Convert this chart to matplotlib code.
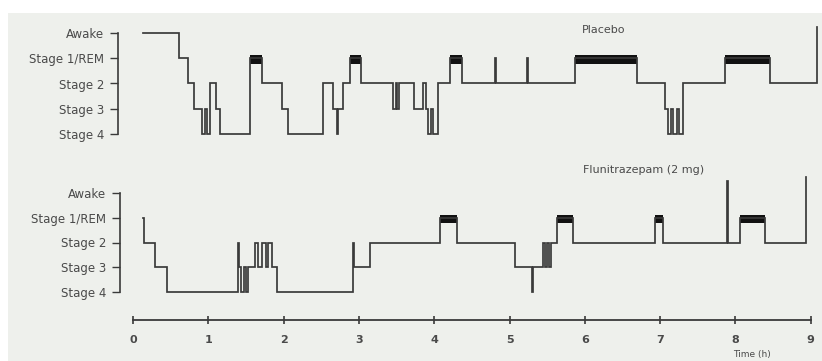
import matplotlib
matplotlib.use("Agg")
import matplotlib.pyplot as plt
from matplotlib.patches import Rectangle

# ---------------- data (hours, stage level: 0=Stage 4 ... 3=Stage 1/REM, 4=Awake) -------------
stage_labels = ["Stage 4", "Stage 3", "Stage 2", "Stage 1/REM", "Awake"]
hour_ticks = [0, 1, 2, 3, 4, 5, 6, 7, 8, 9]

placebo_times = [0.13, 0.61, 0.73, 0.81, 0.92, 0.96, 0.98, 1.02, 1.10, 1.16,
                 1.55, 1.71, 1.98, 2.06, 2.52, 2.66, 2.71, 2.72, 2.79, 2.88,
                 3.03, 3.45, 3.49, 3.51, 3.53, 3.73, 3.85, 3.89, 3.92, 3.96,
                 3.98, 4.05, 4.21, 4.37, 4.81, 4.82, 5.23, 5.25, 5.87, 6.69,
                 7.07, 7.11, 7.15, 7.17, 7.22, 7.25, 7.30, 7.86, 8.46, 9.08]
placebo_stages = [4, 3, 2, 1, 0, 1, 0, 2, 1, 0,
                  3, 2, 1, 0, 2, 1, 0, 1, 2, 3,
                  2, 1, 2, 1, 2, 1, 2, 1, 0, 1,
                  0, 2, 3, 2, 3, 2, 3, 2, 3, 2,
                  1, 0, 1, 0, 1, 0, 2, 3, 2, 4.25]
placebo_rem = [(1.55, 1.71), (2.88, 3.03), (4.21, 4.37), (5.87, 6.69), (7.86, 8.46)]

fluni_times = [0.13, 0.14, 0.29, 0.45, 1.39, 1.41, 1.43, 1.47, 1.50, 1.53,
               1.62, 1.66, 1.71, 1.77, 1.79, 1.85, 1.91, 2.92, 2.94, 3.15,
               4.08, 4.30, 5.07, 5.30, 5.31, 5.44, 5.47, 5.50, 5.52, 5.55,
               5.63, 5.84, 6.93, 7.04, 7.89, 7.90, 8.06, 8.39, 8.94]
fluni_stages = [3, 2, 1, 0, 2, 1, 0, 1, 0, 1,
                2, 1, 2, 1, 2, 1, 0, 2, 1, 2,
                3, 2, 1, 0, 1, 2, 1, 2, 1, 2,
                3, 2, 3, 2, 4.5, 2, 3, 2, 4.65]
fluni_rem = [(4.08, 4.30), (5.63, 5.84), (6.93, 7.04), (8.06, 8.39)]

# ---------------- layout helpers -------------
W, H = 822, 361
PX_PER_H = 75.3
X0 = 133


def rect(l, t, r, b):
    return [l / W, 1 - b / H, (r - l) / W, (b - t) / H]


fig = plt.figure(figsize=(W / 100, H / 100), dpi=100)
fig.patch.set_facecolor("white")
fig.patches.append(Rectangle((8 / W, 0), 1 - 8 / W, 1 - 13 / H, transform=fig.transFigure,
                             facecolor="#eef0ec", edgecolor="none", zorder=-10))

LINE = "#3a3a3a"
TXT = "#4a4a4a"


def panel(axr, left_px, top_px, bottom_px, y_awake, y_s4, times, stages, rem):
    ax = fig.add_axes(axr)
    ax.set_facecolor("none")
    step = (y_s4 - y_awake) / 4.0
    ax.set_ylim((y_s4 - bottom_px) / step, 4 + (y_awake - top_px) / step)
    ax.set_xlim((left_px - X0) / PX_PER_H, (W - X0) / PX_PER_H)
    ax.step(times, stages, where="post", color=LINE, lw=1.25, solid_joinstyle="miter")
    for s, e in rem:
        ax.fill_between([s, e], 2.78, 3.12, color="#111111", lw=0)
    for sp in ("top", "right", "bottom"):
        ax.spines[sp].set_visible(False)
    ax.spines["left"].set_bounds(0, 4)
    ax.spines["left"].set_color(LINE)
    ax.spines["left"].set_linewidth(1.2)
    ax.set_xticks([])
    ax.set_yticks(range(5))
    ax.set_yticklabels(stage_labels, fontsize=8.5, color=TXT)
    ax.tick_params(axis="y", length=6, width=1, color=LINE, pad=4)
    return ax


ax1 = panel(rect(118, 20, W, 145), 118, 20, 145, 33, 134,
            placebo_times, placebo_stages, placebo_rem)
ax2 = panel(rect(120, 170, W, 305), 120, 170, 305, 193, 292,
            fluni_times, fluni_stages, fluni_rem)

# time axis
axx = fig.add_axes(rect(118, 300, W, 320))
axx.set_facecolor("none")
axx.set_xlim((118 - X0) / PX_PER_H, (W - X0) / PX_PER_H)
for sp in ("top", "right", "left"):
    axx.spines[sp].set_visible(False)
axx.spines["bottom"].set_bounds(0, 9)
axx.spines["bottom"].set_color(LINE)
axx.spines["bottom"].set_linewidth(1.3)
axx.set_yticks([])
axx.set_xticks(hour_ticks)
axx.set_xticklabels([str(h) for h in hour_ticks], fontsize=8, color=TXT, fontweight="bold")
axx.tick_params(axis="x", length=6, width=1.2, color=LINE, direction="inout", pad=8)

fig.text(604 / W, 1 - 30 / H, "Placebo", fontsize=8, color=TXT, ha="center", va="center")
fig.text(644 / W, 1 - 170 / H, "Flunitrazepam (2 mg)", fontsize=8, color=TXT,
         ha="center", va="center")
fig.text(752 / W, 1 - 355 / H, "Time (h)", fontsize=6.5, color=TXT, ha="center", va="center")

fig.savefig("out.png", dpi=100)
